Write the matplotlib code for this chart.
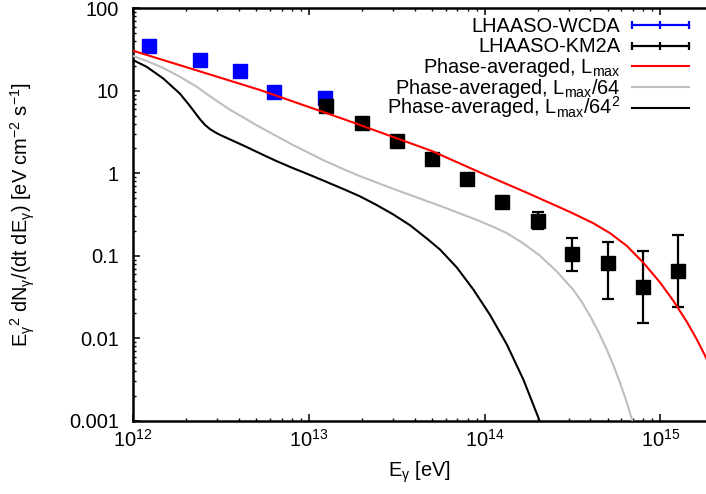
import matplotlib
matplotlib.use('Agg')
import matplotlib.pyplot as plt
import numpy as np

plt.rcParams['font.family'] = ['Liberation Sans', 'DejaVu Sans']
plt.rcParams['mathtext.fontset'] = 'custom'
plt.rcParams['mathtext.rm'] = 'Liberation Sans'
plt.rcParams['mathtext.it'] = 'Liberation Sans:italic'
plt.rcParams['mathtext.bf'] = 'Liberation Sans:bold'
plt.rcParams['mathtext.default'] = 'regular'

# LHAASO-WCDA
wcda_e = [1.23e12, 2.40e12, 4.06e12, 6.34e12, 1.24e13]
wcda_f = [35.2, 23.6, 17.5, 9.75, 8.24]

# LHAASO-KM2A (valeur, borne basse, borne haute)
km2a_e = [1.26e13, 2.0e13, 3.16e13, 5.0e13, 7.94e13, 1.26e14, 2.0e14, 3.16e14, 5.0e14, 7.94e14, 1.26e15]
km2a_f = [6.59, 4.10, 2.48, 1.50, 0.853, 0.445, 0.266, 0.105, 0.0824, 0.0422, 0.0655]
km2a_lo = [6.59, 4.10, 2.48, 1.50, 0.853, 0.445, 0.209, 0.0655, 0.0297, 0.0152, 0.0238]
km2a_hi = [6.59, 4.10, 2.48, 1.50, 0.853, 0.445, 0.343, 0.163, 0.148, 0.115, 0.179]

# Phase-averaged, Lmax
red_e = [1.0e12, 2.239e12, 5.248e12, 1.585e13, 5.012e13, 1.0e14, 1.778e14, 3.062e14, 4.150e14,
         5.164e14, 6.427e14, 8.0e14, 9.954e14, 1.183e15, 1.413e15, 1.611e15, 1.816e15, 1.901e15]
red_f = [30.6, 18.0, 10.26, 4.52, 1.862, 0.966, 0.569, 0.339, 0.248,
         0.188, 0.132, 0.0822, 0.0473, 0.0285, 0.0158, 0.00966, 0.00582, 0.00468]

# Phase-averaged, Lmax/64
gray_e = [1.0e12, 1.197e12, 1.486e12, 1.849e12, 2.301e12, 2.864e12, 3.565e12, 5.164e12, 8.0e12,
          1.236e13, 1.607e13, 1.954e13, 3.027e13, 5.572e13, 8.63e13, 1.074e14, 1.337e14,
          1.660e14, 2.065e14, 2.570e14, 3.199e14, 3.573e14, 3.981e14, 4.446e14, 4.955e14,
          5.408e14, 5.888e14, 6.368e14, 6.871e14, 7.396e14]
gray_f = [26.4, 23.0, 18.9, 14.8, 11.2, 8.04, 5.89, 3.72, 2.24,
          1.41, 1.10, 0.923, 0.646, 0.403, 0.282, 0.233, 0.188,
          0.141, 0.100, 0.0646, 0.0385, 0.0275, 0.0186, 0.0119, 0.00724,
          0.00468, 0.00288, 0.00178, 0.00105, 0.000617]

# Phase-averaged, Lmax/64^2
black_e = [1.0e12, 1.197e12, 1.486e12, 1.849e12, 2.109e12, 2.404e12, 2.570e12, 2.742e12, 2.931e12,
           3.126e12, 3.565e12, 4.266e12, 5.164e12, 6.427e12, 8.0e12, 1.0e13, 1.236e13, 1.607e13,
           1.954e13, 2.432e13, 3.027e13, 3.767e13, 4.688e13, 5.572e13, 6.934e13, 8.63e13,
           1.074e14, 1.337e14, 1.660e14, 2.018e14, 2.188e14]
black_f = [23.6, 19.5, 14.1, 9.23, 6.53, 4.52, 3.85, 3.43, 3.14,
           2.92, 2.57, 2.16, 1.78, 1.43, 1.17, 0.966, 0.800, 0.631,
           0.525, 0.412, 0.316, 0.234, 0.162, 0.119, 0.0724, 0.0389,
           0.0191, 0.00841, 0.00316, 0.00110, 0.000676]

yticks = [0.001, 0.01, 0.1, 1, 10, 100]
yticklabels = ['0.001', '0.01', '0.1', '1', '10', '100']

legend_labels = ['LHAASO-WCDA', 'LHAASO-KM2A', r'Phase-averaged, L$_{max}$',
                 r'Phase-averaged, L$_{max}$/64', r'Phase-averaged, L$_{max}$/64$^2$']
legend_colors = ['#0000ff', 'black', '#ff0000', '#bebebe', 'black']

fs = 14.4
fig = plt.figure(figsize=(7.06, 4.94), dpi=100)
ax = fig.add_axes([133 / 706, (494 - 420.7) / 494, 573 / 706, 412.4 / 494])

# Points
ax.plot(wcda_e, wcda_f, 's', color='#0000ff', ms=9.6, zorder=2)
km2a_f_arr = np.array(km2a_f)
yerr = [km2a_f_arr - np.array(km2a_lo), np.array(km2a_hi) - km2a_f_arr]
ax.errorbar(km2a_e, km2a_f, yerr=yerr, fmt='s', color='black', ms=9.6,
            elinewidth=1.6, capsize=4.3, capthick=1.6, zorder=2.5)

# Courbes
ax.plot(red_e, red_f, color='#ff0000', lw=1.5, zorder=3)
ax.plot(gray_e, gray_f, color='#bebebe', lw=1.5, zorder=3)
ax.plot(black_e, black_f, color='black', lw=1.5, zorder=3)

ax.set_xscale('log')
ax.set_yscale('log')
ax.set_xlim(1e12, 1.816e15)
ax.set_ylim(1e-3, 100)
ax.set_yticks(yticks)
ax.set_yticklabels(yticklabels)

ax.spines['right'].set_visible(False)
for s in ['left', 'bottom', 'top']:
    ax.spines[s].set_linewidth(1.8)
ax.tick_params(which='both', direction='in', top=True, right=False, labelsize=fs)
ax.tick_params(which='major', length=5, width=1.1)
ax.tick_params(which='minor', length=2.5, width=1.0)
ax.tick_params(axis='y', which='both', pad=10)
ax.tick_params(axis='x', which='both', pad=6)

ax.set_xlabel(r'E$_\gamma$ [eV]', fontsize=fs)
ax.set_ylabel(r'E$_\gamma{}^2$ dN$_\gamma$/(dt dE$_\gamma$) [eV cm$^{-2}$ s$^{-1}$]', fontsize=fs)
ax.xaxis.set_label_coords(0.5, -0.093)
ax.yaxis.set_label_coords(-0.168, 0.5)

# Légende façon gnuplot (texte à droite, échantillon à gauche)
for i, (lab, col) in enumerate(zip(legend_labels, legend_colors)):
    y = 0.9595 - i * 0.0501
    ax.text(0.850, y - 0.0158, lab, transform=ax.transAxes, ha='right', va='baseline', fontsize=fs)
    if i < 2:
        ax.plot([0.871, 0.9205, 0.970], [y, y, y], color=col, lw=1.6, marker='|', ms=6, mew=1.6,
                transform=ax.transAxes, clip_on=False)
    else:
        ax.plot([0.871, 0.970], [y, y], color=col, lw=1.5, transform=ax.transAxes, clip_on=False)

fig.savefig('out.png', dpi=100)
